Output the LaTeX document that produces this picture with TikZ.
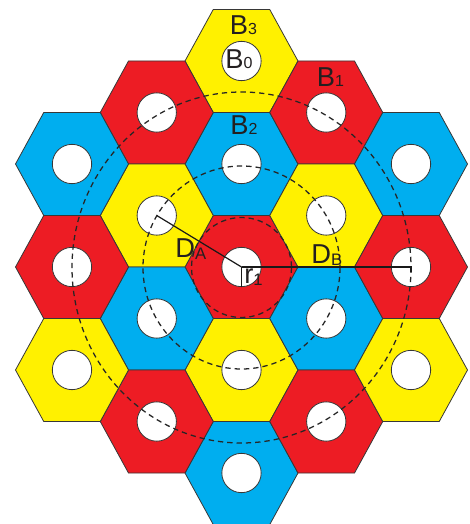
\documentclass[tikz,border=0pt]{standalone}
\usepackage{fontspec}
\setmainfont{Liberation Sans}
\definecolor{hy}{RGB}{255,241,0}
\definecolor{hr}{RGB}{237,28,36}
\definecolor{hb}{RGB}{0,174,239}
\definecolor{edgec}{RGB}{55,55,55}
\definecolor{txt}{RGB}{35,31,32}
\newcommand\bigsub[2]{#1{\fontsize{12}{12}\selectfont #2}}
\newcommand\lowsub[2]{#1\raisebox{-2pt}{\fontsize{12.5}{12}\selectfont #2}}
\begin{document}
\begin{tikzpicture}[x=0.75pt,y=-0.75pt,
  hexa/.style={draw=edgec,line width=0.6pt},
  hole/.style={circle,draw=edgec,fill=white,line width=0.6pt,minimum size=29.5pt,inner sep=0pt},
  ring/.style={line width=0.95pt,dash pattern=on 4pt off 3pt,black!85},
  ruler/.style={line width=0.9pt,black!90},
  lab/.style={font=\fontsize{20.5}{20}\selectfont,text=txt,inner sep=0pt,anchor=base west}]
\useasboundingbox (0,0) rectangle (469,524);
\foreach \x/\y/\c/\n in {
  241.5/61/hy/t, 241.5/164/hb/u, 241.5/267/hr/c, 241.5/370/hy/d, 241.5/473/hb/b,
  156.75/112.5/hr/la, 156.75/215.5/hy/lb, 156.75/318.5/hb/lc, 156.75/421.5/hr/ld,
  326.25/112.5/hr/ra, 326.25/215.5/hy/rb, 326.25/318.5/hb/rc, 326.25/421.5/hr/rd,
  72/164/hb/LA, 72/267/hr/LB, 72/370/hy/LC,
  411/164/hb/RA, 411/267/hr/RB, 411/370/hy/RC}{
  \filldraw[hexa,fill=\c,shift={(\x,\y)}] (56.5,0) -- (28.25,-51.5) -- (-28.25,-51.5)
    -- (-56.5,0) -- (-28.25,51.5) -- (28.25,51.5) -- cycle;
  \node[hole] (h\n) at (\x,\y) {};
}
% dashed rings
\coordinate (o) at (241.5,267.5);
\draw[ring] (o) ellipse [x radius=50, y radius=50];
\draw[ring] (o) ellipse [x radius=98.5, y radius=101.5];
\draw[ring] (o) ellipse [x radius=169.5, y radius=175.5];
% radii
\draw[ruler] (hc.center) -- (hlb.center);
\draw[ruler] (hc.center) -- (hRB.center) -- ++(0,5);
\draw[ruler] (hc.center) -- (hc.south);
% labels
\node[lab] (l3) at (229.5,35) {\bigsub{B}{3}};
\node[lab] (l0) at (225,68.5) {\bigsub{B}{0}};
\node[lab] (l1) at (316.5,87) {\bigsub{B}{1}};
\node[lab] (l2) at (230,135) {\bigsub{B}{2}};
\node[lab] (lA) at (175,257) {\lowsub{D}{A}};
\node[lab] (lB) at (311,263) {\lowsub{D}{B}};
\node[lab] (lr) at (244,283) {\lowsub{r}{1}};
\end{tikzpicture}
\end{document}
